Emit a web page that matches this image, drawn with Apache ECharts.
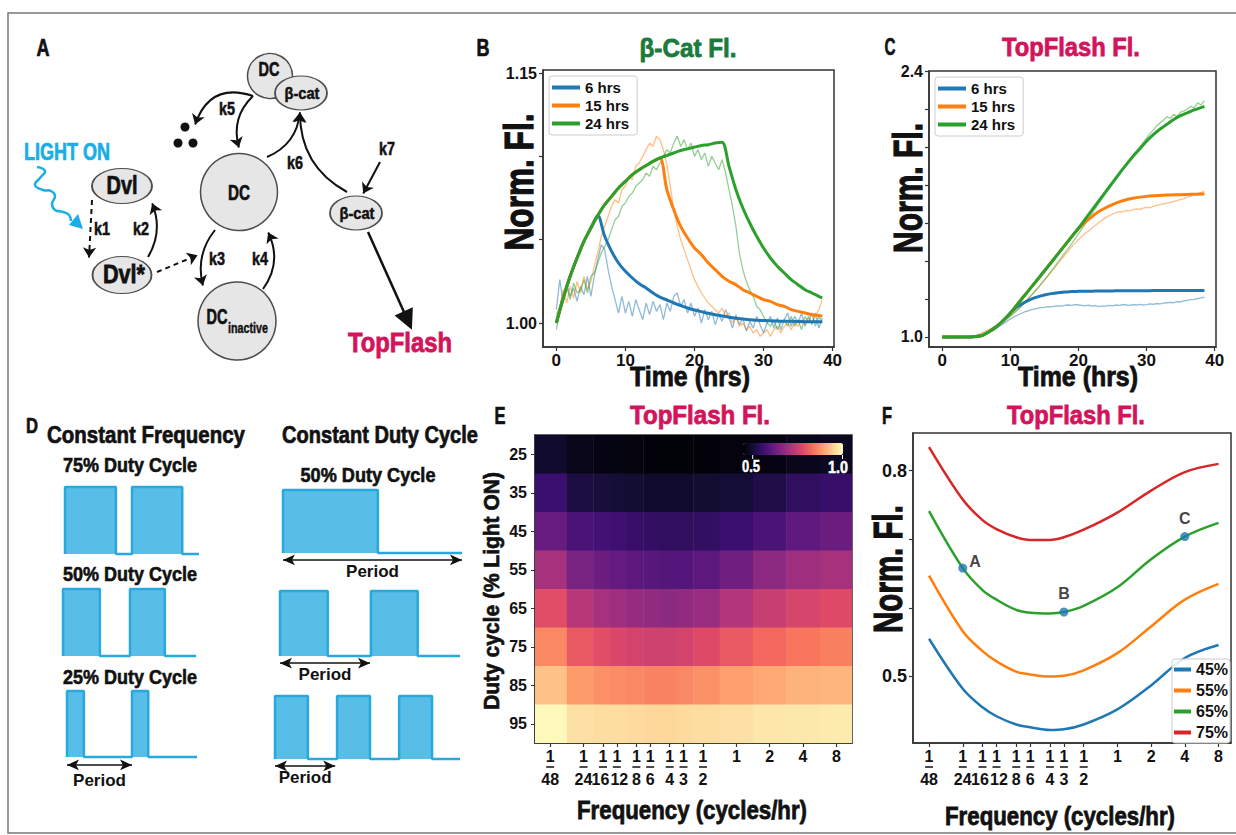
<!DOCTYPE html>
<html>
<head>
<meta charset="utf-8">
<title>Light-driven Wnt signalling figure</title>
<script src="https://cdn.jsdelivr.net/npm/echarts@6.0.0/dist/echarts.min.js"></script>
<style>
  html, body { margin: 0; padding: 0; background: #fff; }
  #fig { width: 1236px; height: 835px; }
</style>
</head>
<body>
<div id="fig"></div>
<script>
const FONT = "'Liberation Sans', Arial, sans-serif"
const INK = '#111'
const BLUE = '#1f77b4', ORANGE = '#ff7f0e', GREEN = '#2ca02c', RED = '#d62728'
const TITLE_GREEN = '#1b7a3d'
const PINK = '#d4145a'
const LIGHT = '#1aaee5'

// ---------- B / C : time courses (model every hour, measured trace every half hour) ----------
const tModel = [0,1,2,3,4,5,6,7,8,9,10,11,12,13,14,15,16,17,18,19,20,21,22,23,24,25,26,27,28,29,30,31,32,33,34,35,36,37,38,38.5]
const bCatModel6 = [1.000,1.015,1.028,1.039,1.049,1.057,1.0645,1.052,1.043,1.036,
  1.031,1.027,1.0235,1.021,1.018,1.0155,1.0138,1.012,1.0105,1.009,
  1.0078,1.0068,1.0058,1.005,1.0042,1.0035,1.0028,1.0024,1.002,1.0017,
  1.0015,1.0013,1.0012,1.001,1.001,1.0009,1.0008,1.0008,1.0008,1.0008]
const bCatModel15 = [1.000,1.015,1.028,1.039,1.049,1.057,1.0645,1.071,1.076,1.081,
  1.085,1.089,1.092,1.0945,1.097,1.099,1.080,1.068,1.058,1.051,
  1.045,1.041,1.036,1.032,1.028,1.025,1.023,1.020,1.018,1.016,
  1.014,1.013,1.011,1.010,1.008,1.007,1.006,1.005,1.0045,1.004]
const bCatModel24 = [1.000,1.015,1.028,1.039,1.049,1.057,1.0645,1.071,1.076,1.081,
  1.085,1.089,1.092,1.0945,1.097,1.099,1.1005,1.102,1.1035,1.1045,
  1.1055,1.1065,1.107,1.108,1.1085,1.094,1.080,1.069,1.060,1.052,
  1.045,1.039,1.034,1.030,1.026,1.023,1.020,1.018,1.016,1.015]
const topModel6 = [1.000,1.000,1.000,1.000,1.000,1.002,1.010,1.030,1.055,1.088,
  1.125,1.158,1.180,1.198,1.211,1.221,1.228,1.233,1.236,1.239,
  1.240,1.241,1.241,1.242,1.242,1.242,1.243,1.243,1.243,1.243,
  1.243,1.244,1.244,1.244,1.244,1.244,1.244,1.244,1.244,1.244]
const topModel15 = [1.000,1.000,1.000,1.000,1.000,1.002,1.010,1.030,1.055,1.088,
  1.125,1.170,1.214,1.258,1.302,1.347,1.392,1.437,1.482,1.527,
  1.568,1.604,1.634,1.660,1.680,1.697,1.711,1.722,1.730,1.736,
  1.740,1.743,1.745,1.747,1.748,1.749,1.750,1.751,1.752,1.752]
const topModel24 = [1.000,1.000,1.000,1.000,1.000,1.002,1.010,1.030,1.055,1.088,
  1.125,1.170,1.214,1.258,1.302,1.347,1.392,1.437,1.482,1.527,
  1.572,1.620,1.668,1.716,1.764,1.812,1.860,1.906,1.950,1.990,
  2.030,2.065,2.095,2.120,2.145,2.165,2.180,2.195,2.207,2.213]

const tTrace = [0,0.5,1,1.5,2,2.5,3,3.5,4,4.5,
  5,5.5,6,6.5,7,7.5,8,8.5,9,9.5,
  10,10.5,11,11.5,12,12.5,13,13.5,14,14.5,
  15,15.5,16,16.5,17,17.5,18,18.5,19,19.5,
  20,20.5,21,21.5,22,22.5,23,23.5,24,24.5,
  25,25.5,26,26.5,27,27.5,28,28.5,29,29.5,
  30,30.5,31,31.5,32,32.5,33,33.5,34,34.5,
  35,35.5,36,36.5,37,37.5,38,38.5]
const bCatTrace6 = [1.008,1.026,1.012,1.024,1.016,1.021,1.013,1.022,1.017,1.028,
  1.016,1.028,1.038,1.047,1.044,1.032,1.022,1.014,1.006,1.016,
  1.006,1.013,1.004,1.014,1.008,1.002,1.012,1.005,1.013,1.007,
  1.011,1.002,1.012,1.007,1.016,1.018,1.010,1.014,1.006,1.012,
  1.004,1.009,1.000,1.008,1.002,1.007,0.999,1.005,1.001,1.008,
  1.003,0.997,1.005,0.999,1.003,0.995,1.001,0.997,1.004,0.999,
  0.994,1.000,1.004,0.997,1.003,0.996,1.002,1.006,0.998,1.004,
  1.000,1.006,0.998,1.004,0.999,1.006,0.997,1.003]
const bCatTrace15 = [1.005,1.010,1.020,1.012,1.022,1.015,1.025,1.018,1.028,1.020,
  1.025,1.034,1.042,1.052,1.058,1.064,1.070,1.074,1.072,1.080,
  1.082,1.088,1.086,1.094,1.096,1.100,1.104,1.108,1.106,1.112,
  1.110,1.104,1.095,1.082,1.068,1.058,1.050,1.044,1.038,1.032,
  1.026,1.022,1.018,1.015,1.012,1.010,1.008,1.006,1.009,1.004,
  1.006,1.000,1.004,0.998,1.000,0.996,0.998,0.994,0.996,0.992,
  0.994,0.996,0.992,0.996,0.998,0.994,0.998,1.000,0.996,1.000,
  0.998,1.002,0.999,1.003,1.000,1.004,1.008,1.014]
const bCatTrace24 = [0.996,1.008,1.015,1.022,1.014,1.024,1.018,1.020,1.026,1.018,
  1.028,1.030,1.036,1.042,1.046,1.050,1.056,1.062,1.064,1.070,
  1.072,1.076,1.078,1.082,1.084,1.086,1.090,1.088,1.094,1.092,
  1.096,1.100,1.104,1.102,1.108,1.112,1.106,1.110,1.104,1.108,
  1.100,1.104,1.098,1.102,1.094,1.100,1.096,1.092,1.098,1.090,
  1.080,1.070,1.058,1.042,1.032,1.025,1.020,1.016,1.010,1.008,
  1.004,1.000,0.998,1.002,0.996,1.000,1.002,0.998,1.004,0.998,
  1.002,0.996,1.004,1.000,1.006,0.998,1.004,1.000]
const topTrace6 = [0.996,0.995,0.997,0.996,0.998,0.997,0.998,0.999,1.000,1.000,
  1.003,1.006,1.010,1.018,1.026,1.036,1.046,1.058,1.070,1.082,
  1.094,1.104,1.114,1.122,1.130,1.136,1.142,1.146,1.150,1.154,
  1.156,1.160,1.158,1.162,1.164,1.162,1.166,1.168,1.166,1.170,
  1.168,1.166,1.164,1.168,1.162,1.165,1.160,1.163,1.162,1.166,
  1.164,1.168,1.166,1.170,1.168,1.166,1.170,1.168,1.172,1.168,
  1.170,1.174,1.172,1.176,1.174,1.178,1.180,1.182,1.180,1.186,
  1.184,1.190,1.192,1.196,1.198,1.202,1.206,1.210]
const topTrace15 = [0.998,0.997,0.998,0.999,0.998,1.000,0.999,1.001,1.003,1.006,
  1.010,1.016,1.024,1.032,1.042,1.052,1.062,1.074,1.086,1.098,
  1.110,1.126,1.142,1.158,1.176,1.196,1.215,1.235,1.256,1.277,
  1.298,1.320,1.342,1.364,1.386,1.408,1.430,1.452,1.474,1.494,
  1.512,1.528,1.544,1.558,1.572,1.588,1.602,1.616,1.628,1.638,
  1.646,1.654,1.660,1.658,1.666,1.664,1.670,1.674,1.672,1.678,
  1.682,1.680,1.688,1.692,1.696,1.700,1.704,1.708,1.714,1.718,
  1.724,1.728,1.736,1.740,1.748,1.754,1.760,1.766]
const topTrace24 = [0.996,0.995,0.996,0.997,0.996,0.998,0.998,0.999,1.000,1.002,
  1.005,1.010,1.016,1.024,1.034,1.044,1.056,1.068,1.080,1.094,
  1.108,1.124,1.140,1.158,1.176,1.196,1.216,1.236,1.256,1.278,
  1.300,1.322,1.346,1.370,1.394,1.418,1.442,1.466,1.490,1.516,
  1.542,1.568,1.594,1.622,1.650,1.678,1.704,1.730,1.756,1.782,
  1.806,1.830,1.856,1.880,1.906,1.930,1.956,1.978,2.000,2.024,
  2.046,2.070,2.090,2.112,2.128,2.142,2.160,2.150,2.172,2.160,
  2.184,2.190,2.200,2.214,2.206,2.232,2.222,2.244]
const pulseNames = ['6 hrs', '15 hrs', '24 hrs']

// ---------- E / F : frequency sweeps ----------
const freqs = [1/48, 1/24, 1/16, 1/12, 1/8, 1/6, 1/4, 1/3, 1/2, 1, 2, 4, 8]
const freqLabels = ['1/48','1/24','1/16','1/12','1/8','1/6','1/4','1/3','1/2','1','2','4','8']
const dutyLabels = ['25','35','45','55','65','75','85','95']
const heat25 = [0.494,0.472,0.467,0.464,0.461,0.458,0.456,0.456,0.458,0.461,0.467,0.478,0.483]
const heat35 = [0.560,0.516,0.511,0.505,0.500,0.494,0.494,0.494,0.500,0.505,0.522,0.544,0.555]
const heat45 = [0.621,0.582,0.571,0.566,0.555,0.549,0.544,0.544,0.549,0.560,0.582,0.610,0.626]
const heat55 = [0.703,0.643,0.626,0.615,0.604,0.599,0.593,0.593,0.604,0.632,0.670,0.692,0.703]
const heat65 = [0.786,0.725,0.703,0.692,0.681,0.676,0.670,0.676,0.687,0.720,0.747,0.769,0.780]
const heat75 = [0.863,0.802,0.786,0.775,0.764,0.758,0.758,0.764,0.780,0.802,0.824,0.841,0.852]
const heat85 = [0.929,0.885,0.874,0.868,0.863,0.857,0.857,0.863,0.874,0.890,0.901,0.912,0.915]
const heat95 = [0.995,0.967,0.962,0.962,0.959,0.956,0.956,0.959,0.962,0.967,0.973,0.975,0.978]
const sweep45 = [0.555,0.482,0.455,0.442,0.430,0.426,0.422,0.423,0.430,0.452,0.487,0.527,0.546]
const sweep55 = [0.647,0.566,0.537,0.522,0.507,0.503,0.500,0.501,0.509,0.534,0.573,0.612,0.635]
const sweep65 = [0.741,0.658,0.626,0.612,0.597,0.593,0.592,0.594,0.603,0.630,0.671,0.704,0.724]
const sweep75 = [0.8345,0.758,0.728,0.715,0.703,0.699,0.699,0.703,0.714,0.739,0.771,0.798,0.810]
const sweepNames = ['45%', '55%', '65%', '75%']
const markedPoints = [['A', 1], ['B', 7], ['C', 11]]   // [label, frequency index] on the 65% curve

// ---------- D : light programmes (pulse on/off times, in periods) ----------
const pulses75 = [[0, 0.76], [1, 1.75]]
const pulses50 = [[0, 0.55], [1, 1.52]]
const pulses25 = [[0, 0.26], [1, 1.25]]
const pulsesLong = [[0, 0.53]]
const pulsesMid = [[0, 0.53], [1.01, 1.53]]
const pulsesShort = [[0, 0.53], [1, 1.53], [2, 2.53]]

const MAGMA = ['#000004','#140e36','#3b0f70','#641a80','#8c2981','#b73779','#de4968','#f7705c','#fe9f6d','#fecf92','#fcfdbf']

const grids = [], xAxes = [], yAxes = [], series = [], legends = [], graphics = []
function addGrid(grid, x, y) {
  const i = grids.length
  grids.push(grid)
  xAxes.push(Object.assign({ gridIndex: i }, x))
  yAxes.push(Object.assign({ gridIndex: i }, y))
  return i
}
const zip = (xs, ys) => xs.map((x, i) => [x, ys[i]])
const tickFont = { fontFamily: FONT, fontWeight: 'bold', fontSize: 16, color: INK }
const frame = { show: true, borderColor: '#333', borderWidth: 1.5, backgroundColor: 'transparent' }

function axis(type, min, max, ticks, labels, fmt, extra) {
  return Object.assign({
    type, min, max,
    axisLine: { show: true, onZero: false, lineStyle: { color: '#333', width: 1.5 } },
    splitLine: { show: false },
    axisTick: { show: true, length: 4, customValues: ticks, lineStyle: { color: '#333', width: 1.2 } },
    axisLabel: Object.assign({ customValues: labels, formatter: fmt, margin: 6 }, tickFont),
  }, extra || {})
}
const hidden = (min, max, extra) => Object.assign({ type: 'value', min, max, show: false }, extra || {})

// the reference uses a heavy condensed face: squeeze each text to the width it has there
const measure = document.createElement('canvas').getContext('2d')
function text(str, x, y, size, width, color, rotate) {
  const font = `bold ${size}px ${FONT}`
  measure.font = font
  const sx = width ? width / measure.measureText(str).width : 1
  graphics.push({
    type: 'text', x, y, rotation: rotate ? Math.PI / 2 : 0, scaleX: sx, silent: true, z: 50,
    style: {
      text: str, fill: color || INK, stroke: color || INK, lineWidth: size * 0.03, font,
      textAlign: 'center', textVerticalAlign: 'middle', verticalAlign: 'middle',
    },
  })
}

// ---------- A : pathway diagram ----------
const gDiag = addGrid({ left: 0, top: 0, width: 1236, height: 835, show: false },
  hidden(0, 1236), hidden(0, 835, { inverse: true }))

const ELLIPSE = 'path://M0,50A50,50,0,1,1,100,50A50,50,0,1,1,0,50Z'
const nodeStyle = { color: '#e6e6e6', borderColor: '#4d4d4d', borderWidth: 1.5 }
const diagramShapes = [
  { id: 'dcTop', at: [270, 76], symbol: 'circle', size: 45 },
  { id: 'bcatTop', at: [301, 93], symbol: ELLIPSE, size: [52, 34] },
  { id: 'dc', at: [239, 192], symbol: 'circle', size: 77 },
  { id: 'dcInactive', at: [237, 321], symbol: 'circle', size: 78 },
  { id: 'dvl', at: [122, 186], symbol: ELLIPSE, size: [60, 35] },
  { id: 'dvlStar', at: [122, 275], symbol: ELLIPSE, size: [59, 37] },
  { id: 'bcat', at: [356, 213], symbol: ELLIPSE, size: [52, 34] },
]
const dots = [[185, 127], [178, 143], [193, 143]]
const arrows = [
  { from: [253, 96], to: [195, 125], c: -0.5 },
  { from: [253, 96], to: [239, 148], c: -0.3 },
  { from: [267, 157], to: [300, 112], c: -0.3 },
  { from: [347, 192], to: [300, 112], c: 0.3 },
  { from: [380, 162], to: [363, 194], c: 0 },
  { from: [368, 232], to: [408, 321], c: 0, width: 2.5, head: 'triangle', size: [15, 20] },
  { from: [92, 200], to: [89, 258], c: 0, dashed: true },
  { from: [148, 257], to: [152, 203], c: -0.25 },
  { from: [157, 272], to: [198, 255], c: 0, dashed: true },
  { from: [215, 230], to: [203, 286], c: -0.25 },
  { from: [263, 289], to: [268, 232], c: -0.3 },
]
const gNodes = [], gLinks = []
let anchorCount = 0
function anchor(at) {
  const name = 'p' + (anchorCount++)
  gNodes.push({ name, value: at, symbol: 'circle', symbolSize: 1, itemStyle: { color: 'rgba(0,0,0,0)', borderWidth: 0 } })
  return name
}
arrows.forEach(a => gLinks.push({
  source: anchor(a.from), target: anchor(a.to),
  symbol: ['none', a.head || 'arrow'], symbolSize: a.size || [8, 10],
  lineStyle: { color: INK, width: a.width || 2, opacity: 1, type: a.dashed ? [5, 4] : 'solid', curveness: a.c },
}))
diagramShapes.forEach(s => gNodes.push({ name: s.id, value: s.at, symbol: s.symbol, symbolSize: s.size, itemStyle: nodeStyle }))
dots.forEach((d, i) => gNodes.push({ name: 'dot' + i, value: d, symbol: 'circle', symbolSize: 9, itemStyle: { color: INK } }))
series.push({
  type: 'graph', coordinateSystem: 'cartesian2d', xAxisIndex: gDiag, yAxisIndex: gDiag,
  layout: 'none', silent: true, roam: false, data: gNodes, links: gLinks, label: { show: false },
  edgeSymbol: ['none', 'arrow'], lineStyle: { opacity: 1 }, emphasis: { disabled: true }, z: 5,
})
// node and rate labels
text('DC', 269, 69, 21, 21)
text('β-cat', 302, 93, 17, 35)
text('DC', 239, 192, 22, 22)
text('DC', 217, 316, 22, 21)
text('inactive', 248, 329, 14, 40)
text('Dvl', 122, 186, 25, 31)
text('Dvl*', 124, 274, 25, 42)
text('β-cat', 357, 213, 17, 35)
text('k1', 102, 228, 18, 16); text('k2', 141, 228, 18, 16)
text('k3', 217, 258, 18, 16); text('k4', 260, 258, 18, 16)
text('k5', 227, 108, 18, 16); text('k6', 295, 162, 18, 16); text('k7', 387, 148, 18, 16)
text('LIGHT ON', 67, 152, 24, 86, LIGHT)
text('TopFlash', 400, 342, 28, 104, PINK)
// light stimulus squiggle
graphics.push({
  type: 'polyline', silent: true, z: 40,
  shape: { points: [[37, 167], [45, 171], [40, 178], [35, 185], [43, 190], [51, 191], [55, 196], [52, 204], [55, 210], [63, 212], [69, 215], [71, 221]], smooth: 0.5 },
  style: { stroke: LIGHT, lineWidth: 2.5, fill: null },
})
graphics.push({ type: 'polygon', silent: true, z: 40, shape: { points: [[83, 229], [69, 225], [78, 214]] }, style: { fill: LIGHT } })

// ---------- B, C ----------
function timeCourse(left, top, width, height, ymin, ymax, yTicks, yLabels, yFmt, models, traces) {
  const g = addGrid(Object.assign({ left, top, width, height }, frame),
    axis('value', -1.93, 40.2, [0, 10, 20, 30, 40], [0, 10, 20, 30, 40], v => String(v),
      { axisLabel: Object.assign({ customValues: [0, 10, 20, 30, 40], margin: 5 }, tickFont, { fontSize: 17 }) }),
    axis('value', ymin, ymax, yTicks, yLabels, yFmt))
  const colors = [BLUE, ORANGE, GREEN]
  traces.forEach((tr, i) => series.push({
    type: 'line', name: pulseNames[i] + ' data', xAxisIndex: g, yAxisIndex: g, data: zip(tTrace, tr),
    showSymbol: false, color: colors[i], lineStyle: { width: 1.3, opacity: 0.5 }, z: 2, silent: true,
  }))
  models.forEach((m, i) => series.push({
    type: 'line', name: pulseNames[i], xAxisIndex: g, yAxisIndex: g, data: zip(tModel, m),
    showSymbol: false, smooth: 0.3, color: colors[i], lineStyle: { width: 3 }, z: 3, silent: true,
  }))
  legends.push({
    left: left + 6, top: top + 6, orient: 'vertical', data: pulseNames, selectedMode: false,
    icon: 'rect', itemWidth: 28, itemHeight: 4, itemGap: 3, padding: [4, 8, 4, 3],
    backgroundColor: '#fff', borderColor: '#ccc', borderWidth: 1, borderRadius: 3,
    textStyle: { fontFamily: FONT, fontWeight: 'bold', fontSize: 15, color: INK, lineHeight: 15 },
  })
  return g
}
timeCourse(543, 70, 291, 277, 0.9856, 1.1518, [1.0, 1.05, 1.1, 1.15], [1.0, 1.15], v => v.toFixed(2),
  [bCatModel6, bCatModel15, bCatModel24], [bCatTrace6, bCatTrace15, bCatTrace24])
timeCourse(929, 71, 287, 276, 0.947, 2.4, [1.0, 1.2, 1.4, 1.6, 1.8, 2.0, 2.2, 2.4], [1.0, 2.4], v => v.toFixed(1),
  [topModel6, topModel15, topModel24], [topTrace6, topTrace15, topTrace24])

// ---------- frequency axis labels (stacked fractions) ----------
// 1/16 and 1/12 sit very close: nudge their denominators apart
const denomStyle = { '16': 'dL', '12': 'dR' }
function freqLabel(v) {
  const i = freqs.findIndex(f => Math.abs(f - v) / f < 1e-3)
  const s = freqLabels[i] || ''
  if (s.indexOf('/') >= 0) {
    const [n, d] = s.split('/')
    return `{n|${n}}\n{bar| }\n{${denomStyle[d] || 'd'}|${d}}`
  }
  return `{n|${s}}`
}
const fracText = { fontFamily: FONT, fontWeight: 'bold', fontSize: 16, color: INK }
const fracRich = {
  n: Object.assign({ lineHeight: 16 }, fracText),
  bar: { width: 8, height: 1.5, backgroundColor: INK, fontSize: 2, lineHeight: 6 },
  d: Object.assign({ lineHeight: 18 }, fracText),
  dL: Object.assign({ lineHeight: 18, padding: [0, 5, 0, 0] }, fracText),
  dR: Object.assign({ lineHeight: 18, padding: [0, 0, 0, 5] }, fracText),
}
function freqAxis(min, max) {
  return axis('log', min, max, freqs, freqs, freqLabel, {
    logBase: 2,
    axisLabel: { customValues: freqs, formatter: freqLabel, margin: 5, rich: fracRich, fontSize: 16 },
  })
}

// ---------- E : heat map ----------
const heatRows = [heat25, heat35, heat45, heat55, heat65, heat75, heat85, heat95]
const edges = freqs.map((f, i) => i === 0 ? f / Math.SQRT2 : Math.sqrt(freqs[i - 1] * f))
edges.push(freqs[freqs.length - 1] * Math.SQRT2)
const heatData = []
heatRows.forEach((row, r) => row.forEach((v, c) => heatData.push([freqs[c], r, v, c])))
const gE = addGrid(Object.assign({ left: 535, top: 435, width: 317, height: 308 }, frame),
  freqAxis(0.0152, 11.08),
  {
    type: 'category', data: dutyLabels, inverse: true,
    axisLine: { show: true, onZero: false, lineStyle: { color: '#333', width: 1.5 } },
    axisTick: { show: true, alignWithLabel: true, length: 4, lineStyle: { color: '#333' } },
    axisLabel: Object.assign({ margin: 8 }, tickFont),
    splitLine: { show: false },
  })
const heatIndex = series.length
series.push({
  type: 'custom', xAxisIndex: gE, yAxisIndex: gE, data: heatData, encode: { x: 0, y: 1 }, clip: true, silent: true, z: 1,
  renderItem(params, api) {
    const c = api.value(3), r = api.value(1)
    const p0 = api.coord([edges[c], r]), p1 = api.coord([edges[c + 1], r])
    const h = api.size([0, 1])[1]
    return { type: 'rect', shape: { x: p0[0], y: p0[1] - h / 2, width: p1[0] - p0[0] + 0.5, height: h + 0.5 }, style: { fill: api.visual('color') } }
  },
})
graphics.push({ type: 'line', silent: true, z: 60, shape: { x1: 752.7, y1: 455, x2: 752.7, y2: 459 }, style: { stroke: '#fff', lineWidth: 1 } })
graphics.push({ type: 'line', silent: true, z: 60, shape: { x1: 842.5, y1: 455, x2: 842.5, y2: 459 }, style: { stroke: '#fff', lineWidth: 1 } })
text('0.5', 751, 467, 16, 18, '#fff')
text('1.0', 838, 467, 16, 20, '#fff')

// ---------- F : response vs frequency ----------
const gF = addGrid(Object.assign({ left: 913, top: 433, width: 318, height: 310 }, frame),
  freqAxis(0.01498, 10.34),
  axis('value', 0.403, 0.855, [0.5, 0.6, 0.7, 0.8], [0.5, 0.8], v => v.toFixed(1),
    { axisLabel: Object.assign({ customValues: [0.5, 0.8], formatter: v => v.toFixed(1), margin: 6 }, tickFont, { fontSize: 18 }) }))
const sweeps = [sweep45, sweep55, sweep65, sweep75]
const sweepColors = [BLUE, ORANGE, GREEN, RED]
sweeps.forEach((s, i) => series.push({
  type: 'line', name: sweepNames[i], xAxisIndex: gF, yAxisIndex: gF, data: zip(freqs, s),
  showSymbol: false, smooth: 0.35, color: sweepColors[i], lineStyle: { width: 2.5 }, silent: true, z: 3,
}))
const markOffsets = { A: { position: 'right', offset: [-3, -7] }, B: { position: 'top', offset: [0, -1] }, C: { position: 'top', offset: [0, -1] } }
series.push({
  type: 'scatter', name: 'marked', xAxisIndex: gF, yAxisIndex: gF, silent: true, z: 5,
  symbolSize: 9, itemStyle: { color: BLUE },
  data: markedPoints.map(([name, i]) => ({
    name, value: [freqs[i], sweep65[i]],
    label: Object.assign({ show: true, formatter: name, fontFamily: FONT, fontWeight: 'bold', fontSize: 16, color: INK }, markOffsets[name]),
  })),
})
legends.push({
  left: 1172, top: 659, orient: 'vertical', data: sweepNames, selectedMode: false,
  icon: 'rect', itemWidth: 17, itemHeight: 4, itemGap: 4, padding: [2, 2, 2, 2],
  backgroundColor: 'rgba(255,255,255,0.85)', borderColor: '#ccc', borderWidth: 1, borderRadius: 3,
  textStyle: { fontFamily: FONT, fontWeight: 'bold', fontSize: 16, color: INK, lineHeight: 17 },
})

// ---------- D : light programmes ----------
function stepPoints(pulses, end) {
  const pts = [[pulses[0][0], 0]]
  pulses.forEach(([a, b]) => { pts.push([a, 1]); pts.push([b, 0]) })
  pts.push([end, 0])
  return pts
}
const waves = [
  { pulses: pulses75, end: 2.0, box: [65, 487, 134, 67] },
  { pulses: pulses50, end: 1.985, box: [63, 589, 133, 67] },
  { pulses: pulses25, end: 2.0, box: [67, 691, 130, 66], period: { len: 1.0, y: -0.12, dist: 7 } },
  { pulses: pulsesLong, end: 1.0, box: [283, 490, 179, 63], period: { len: 1.0, y: -0.11, dist: 3 } },
  { pulses: pulsesMid, end: 2.0, box: [280, 591, 180, 65], period: { len: 1.0, y: -0.11, dist: 3 } },
  { pulses: pulsesShort, end: 2.98, box: [275, 696, 185, 63], period: { len: 0.97, y: -0.11, dist: 3 } },
]
waves.forEach(w => {
  const [l, t, wd, h] = w.box
  const g = addGrid({ left: l, top: t, width: wd, height: h * 1.35, show: false }, hidden(0, w.end), hidden(-0.35, 1))
  const s = {
    type: 'line', xAxisIndex: g, yAxisIndex: g, data: stepPoints(w.pulses, w.end), step: 'end',
    showSymbol: false, clip: false, silent: true, z: 2,
    lineStyle: { color: '#27a8df', width: 2.5 }, areaStyle: { color: '#58bde7', opacity: 1 },
  }
  if (w.period) {
    s.markLine = {
      silent: true, animation: false, symbol: ['arrow', 'arrow'], symbolSize: [8, 12],
      lineStyle: { color: INK, width: 1.5, type: 'solid' },
      label: { show: true, position: 'insideMiddleBottom', distance: w.period.dist, formatter: 'Period', fontFamily: FONT, fontWeight: 'bold', fontSize: 17, color: INK },
      data: [[{ coord: [0, w.period.y] }, { coord: [w.period.len, w.period.y] }]],
    }
  }
  series.push(s)
})

// ---------- titles, axis names, panel letters ----------
text('A', 43, 48, 23, 13); text('B', 483, 48, 23, 13); text('C', 890, 47, 23, 11)
text('D', 32, 425, 22, 12); text('E', 500, 416, 23, 11); text('F', 887, 416, 23, 10)
text('β-Cat Fl.', 688, 48, 26, 97, TITLE_GREEN)
text('TopFlash Fl.', 1071, 47, 26, 138, PINK)
text('TopFlash Fl.', 700, 415, 26, 140, PINK)
text('TopFlash Fl.', 1076, 415, 26, 138, PINK)
text('Norm. Fl.', 519, 182, 40, 137, INK, true)
text('Norm. Fl.', 908, 188, 40, 130, INK, true)
text('Norm. Fl.', 888, 569, 40, 128, INK, true)
text('Duty cycle (% Light ON)', 492, 591, 22, 238, INK, true)
text('Time (hrs)', 690, 377, 27, 120)
text('Time (hrs)', 1078, 377, 27, 120)
text('Frequency (cycles/hr)', 692, 810, 26, 230)
text('Frequency (cycles/hr)', 1060, 816, 26, 230)
text('Constant Frequency', 146, 435, 24, 198)
text('Constant Duty Cycle', 380, 435, 24, 196)
text('75% Duty Cycle', 130, 465, 20, 134)
text('50% Duty Cycle', 130, 574, 20, 134)
text('25% Duty Cycle', 130, 677, 20, 134)
text('50% Duty Cycle', 368, 475, 20, 135)
graphics.push({ type: 'rect', silent: true, z: 0, shape: { x: 8, y: 13, width: 1240, height: 820 }, style: { fill: null, stroke: '#777', lineWidth: 1.5 } })

const chart = echarts.init(document.getElementById('fig'), null, { renderer: 'svg' })
chart.setOption({
  backgroundColor: '#fff',
  animation: false,
  grid: grids, xAxis: xAxes, yAxis: yAxes,
  legend: legends,
  visualMap: [{
    type: 'continuous', seriesIndex: heatIndex, dimension: 2, min: 0.45, max: 1.0,
    inRange: { color: MAGMA }, orient: 'horizontal', left: 743, top: 443,
    itemWidth: 12, itemHeight: 100, calculable: false, padding: 0, hoverLink: false, text: null,
  }],
  graphic: { elements: graphics },
  series,
})
</script>
</body>
</html>
